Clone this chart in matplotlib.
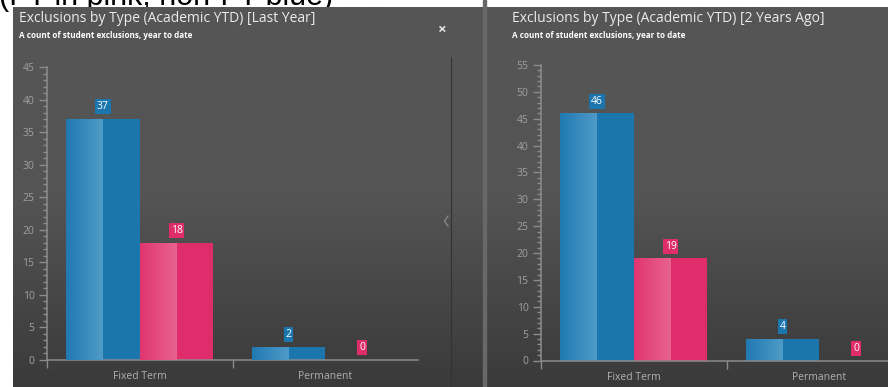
import numpy as np
import matplotlib.pyplot as plt
from matplotlib.colors import LinearSegmentedColormap
from matplotlib.ticker import MultipleLocator

plt.rcParams['font.family'] = ['Open Sans', 'DejaVu Sans']

categories = ['Fixed Term', 'Permanent']
# blue = non-FT, pink = FT
last_year_blue = [37, 2]
last_year_pink = [18, 0]
two_years_blue = [46, 4]
two_years_pink = [19, 0]

titles = ['Exclusions by Type (Academic YTD) [Last Year]',
          'Exclusions by Type (Academic YTD) [2 Years Ago]']
subtitle = 'A count of student exclusions, year to date'
y_max = [45, 55]

BLUE = '#1c76ae'
PINK = '#de2d6a'
grad_blue = LinearSegmentedColormap.from_list('gb', ['#2179b3', '#4e9bc7'])
grad_pink = LinearSegmentedColormap.from_list('gp', ['#e0356f', '#e8638f'])

fig = plt.figure(figsize=(8.88, 3.87), dpi=100)
fig.patch.set_facecolor('white')

# background layer in pixel coords
bg = fig.add_axes([0, 0, 1, 1])
bg.set_xlim(0, 888)
bg.set_ylim(387, 0)
bg.axis('off')

bg.text(-1, 5.5, '(FT in pink, non-FT blue)', fontsize=22, color='black',
        va='baseline', family='Liberation Sans', zorder=1)

panel_cmap = LinearSegmentedColormap.from_list('pn', ['#565656', '#545454', '#3a3a3a'])
grad = np.linspace(0, 1, 256).reshape(-1, 1)
bg.imshow(grad, extent=(13, 483, 387, 7), cmap=panel_cmap, aspect='auto', zorder=2)
bg.imshow(grad, extent=(486, 888, 387, 7), cmap=panel_cmap, aspect='auto', zorder=2)
bg.axvspan(483, 486, color='#686868', zorder=3)
bg.plot([451, 451], [57, 387], color='#333333', lw=0.8, zorder=3)
bg.plot([448, 444.5, 448], [216, 221, 226], color='#8a8a8a', lw=0.9, zorder=3)
bg.text(441, 30, '\u00d7', fontsize=11, color='#e6e6e6', fontweight='bold',
        ha='center', va='center', zorder=3)
bg.set_xlim(0, 888)
bg.set_ylim(387, 0)

for xt, t in zip([19, 512], titles):
    bg.text(xt, 18, t, fontsize=10, color='#ececec', va='center', zorder=4)
    bg.text(xt, 35, subtitle, fontsize=5.9, color='white', fontweight='bold',
            va='center', zorder=4)

ax1 = fig.add_axes([47 / 888, 27 / 387, 371 / 888, 293 / 387])
ax2 = fig.add_axes([541 / 888, 26.5 / 387, 371 / 888, 295.5 / 387])

x = np.arange(len(categories)) + 0.5
w = 0.397

for ax, blue, pink, ym in [(ax1, last_year_blue, last_year_pink, y_max[0]),
                           (ax2, two_years_blue, two_years_pink, y_max[1])]:
    ax.set_zorder(5)
    ax.patch.set_alpha(0)
    for vals, off, col, cm in [(blue, -w / 2, BLUE, grad_blue), (pink, w / 2, PINK, grad_pink)]:
        bars = ax.bar(x + off, vals, w, color=col, zorder=2)
        for rect, xi, v in zip(bars, x + off, vals):
            if v > 0:
                im = ax.imshow(np.linspace(0, 1, 64).reshape(1, -1), cmap=cm,
                               extent=(xi - w / 2, xi, 0, v), aspect='auto', zorder=3)
                im.set_clip_path(rect)
            ax.annotate(str(v), (xi, v), xytext=(0, 8.8), textcoords='offset points',
                        ha='center', va='center', color='white', fontsize=7.5,
                        bbox=dict(boxstyle='square,pad=0.18', fc=col, ec='none'),
                        zorder=4)
    ax.set_xlim(0, 2)
    ax.set_ylim(0, ym)
    for s in ['top', 'right']:
        ax.spines[s].set_visible(False)
    for s in ['left', 'bottom']:
        ax.spines[s].set_color('#8c8c8c')
        ax.spines[s].set_linewidth(1.1)
    ax.yaxis.set_major_locator(MultipleLocator(5))
    ax.yaxis.set_minor_locator(MultipleLocator(1))
    ax.tick_params(axis='y', which='major', length=6, width=1, color='#8c8c8c',
                   labelcolor='#a0a0a0', labelsize=7.5, pad=3)
    ax.tick_params(axis='y', which='minor', length=3, width=1, color='#8c8c8c')
    ax.set_xticks([0, 1])
    ax.set_xticklabels(['', ''])
    ax.set_xticks(x, minor=True)
    ax.set_xticklabels(categories, minor=True)
    ax.tick_params(axis='x', which='major', length=6, width=1, color='#8c8c8c')
    ax.tick_params(axis='x', which='minor', length=0, pad=8,
                   labelcolor='#b0b0b0', labelsize=7.5)

fig.savefig('out.png', dpi=100, facecolor=fig.get_facecolor())
